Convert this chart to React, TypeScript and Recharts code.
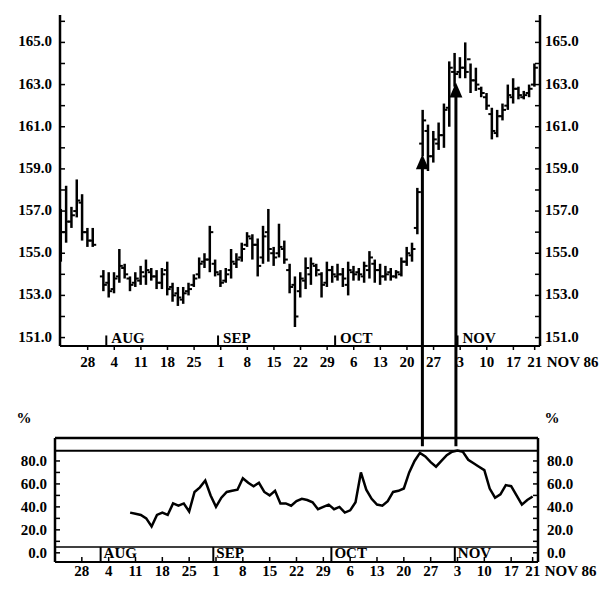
import React from 'react';
import { ComposedChart, LineChart, Bar, Line, XAxis, YAxis, ReferenceLine } from 'recharts';

const W = 616;
const INK = '#000';
const FONT = '"Liberation Serif", "DejaVu Serif", serif';
const txt = { fontFamily: FONT, fontSize: 15, fontWeight: 700, fill: INK };

// one entry per trading day, index 0 = Mon 21 Jul 1986 ... index 89 = Fri 21 Nov 1986
const openPx = [
  155.2, 156.0, 156.5, 157.0, 157.4, 156.0, 155.6, null, 153.9, 153.6,
  153.3, 153.9, 154.3, 153.8, 153.6, 153.7, 153.9, 154.1, 153.9, 153.6,
  154.2, 153.4, 153.1, 152.8, 153.2, 153.5, 154.0, 154.6, 154.7, 154.5,
  154.0, 153.7, 154.2, 154.5, 154.8, 155.4, 155.7, 155.4, 154.8, 156.0,
  155.0, 155.0, 155.2, 154.2, 153.5, 153.2, 153.7, 154.0, 154.4, 154.0,
  153.6, 154.2, 153.9, 154.0, 153.5, 154.1, 154.1, 153.9, 154.2, 154.5,
  154.2, 153.9, 154.1, 153.9, 154.0, 154.6, 154.9, 156.2, 160.2, 160.8,
  159.6, 160.2, 160.6, 161.9, 163.6, 163.6, 163.8, 164.2, 163.2, 162.8,
  162.4, 161.6, 160.7, 161.5, 162.0, 162.4, 162.8, 162.4, 162.6, 163.0,
];
const highPx = [
  157.1, 158.2, 157.2, 158.5, 157.8, 156.2, 156.2, null, 154.2, 154.1,
  154.1, 155.2, 154.5, 153.9, 154.1, 154.4, 154.7, 154.3, 154.2, 154.3,
  154.6, 153.6, 153.4, 153.4, 153.6, 154.0, 154.8, 155.0, 156.3, 154.7,
  154.2, 154.3, 155.2, 155.0, 155.5, 156.0, 155.9, 155.7, 156.3, 157.1,
  155.3, 156.4, 155.6, 154.5, 153.9, 154.1, 154.8, 154.8, 154.5, 154.1,
  154.6, 154.4, 154.5, 154.3, 154.6, 154.4, 154.3, 154.6, 155.1, 154.7,
  154.5, 154.4, 154.3, 154.2, 154.8, 155.3, 155.5, 158.1, 161.8, 161.1,
  160.8, 161.2, 162.1, 164.1, 164.5, 164.3, 165.0, 164.0, 163.8, 162.9,
  162.6, 161.9, 161.8, 162.1, 163.0, 163.3, 162.9, 162.7, 163.0, 164.0,
];
const lowPx = [
  154.6, 155.5, 156.2, 156.7, 155.6, 155.3, 155.3, null, 153.2, 152.9,
  153.1, 153.6, 153.8, 153.2, 153.4, 153.5, 153.5, 153.7, 153.3, 153.3,
  153.0, 152.7, 152.5, 152.6, 153.0, 153.4, 153.8, 154.3, 154.1, 153.9,
  153.4, 153.6, 153.8, 154.3, 154.6, 155.3, 154.7, 153.9, 154.5, 154.6,
  154.4, 154.8, 154.5, 153.1, 151.5, 152.9, 153.3, 153.5, 153.9, 152.9,
  153.4, 153.6, 153.7, 153.4, 153.0, 153.7, 153.7, 153.6, 153.8, 153.6,
  153.5, 153.7, 153.7, 153.8, 153.9, 154.4, 154.6, 155.9, 159.6, 158.9,
  159.3, 159.9, 160.0, 161.0, 162.9, 163.3, 163.3, 162.6, 162.7, 162.4,
  161.8, 160.4, 160.5, 161.3, 161.8, 162.1, 162.3, 162.3, 162.4, 162.9,
];
const closePx = [
  156.0, 156.5, 156.8, 157.5, 156.0, 155.6, 155.4, null, 153.5, 153.2,
  153.8, 154.4, 154.0, 153.5, 153.8, 154.1, 154.2, 153.9, 153.6, 154.0,
  153.3, 153.0, 152.9, 153.1, 153.3, 153.8, 154.5, 154.7, 156.0, 154.1,
  153.6, 154.0, 154.6, 154.7, 155.2, 155.8, 155.4, 154.4, 155.8, 155.2,
  154.8, 155.3, 154.7, 153.4, 152.0, 153.8, 154.3, 154.5, 154.2, 153.5,
  154.2, 154.0, 154.0, 153.8, 154.2, 154.0, 154.0, 154.4, 154.8, 154.2,
  153.9, 154.0, 153.9, 154.1, 154.6, 155.0, 155.2, 157.9, 161.3, 159.6,
  160.4, 160.6, 161.8, 163.8, 163.5, 163.8, 163.6, 163.2, 163.0, 162.6,
  162.0, 160.8, 161.5, 161.8, 162.5, 162.8, 162.5, 162.5, 162.8, 163.8,
];

// lower panel, % line, first value on day index 14
const pctStart = 14;
const pctValues = [
  35, 34, 33, 30, 23, 33, 35, 33, 43, 41,
  43, 36, 53, 57, 63, 50, 40, 48, 53, 54,
  55, 65, 61, 58, 61, 53, 50, 54, 43, 43,
  41, 45, 47, 46, 44, 38, 40, 42, 38, 40,
  35, 37, 44, 70, 55, 47, 42, 41, 45, 53,
  54, 56, 70, 80, 87, 84, 79, 75, 80, 85,
  88, 89, 88, 81, 78, 75, 72, 56, 48, 51,
  59, 58, 50, 42, 46, 49,
];

const weekTicks = [5, 10, 15, 20, 25, 30, 35, 40, 45, 50, 55, 60, 65, 70, 75, 80, 85, 89];
const weekLabels = ['28', '4', '11', '18', '25', '1', '8', '15', '22', '29', '6', '13', '20', '27', '3', '10', '17', '21'];
const monthEdges = [8.5, 29.5, 51.5, 74.5];
const monthNames = ['AUG', 'SEP', 'OCT', 'NOV'];
const priceTicks = [151, 152, 153, 154, 155, 156, 157, 158, 159, 160, 161, 162, 163, 164, 165, 166];
const pctTicks = [0, 10, 20, 30, 40, 50, 60, 70, 80];
const arrowDays = [67.9, 74.2];
const arrowTips = [159.7, 163.1];

const PRICE_DOMAIN: [number, number] = [150.6, 166.3];
const PCT_DOMAIN: [number, number] = [-8, 100];
const PCT_CEILING = 89;
const PCT_STRIP = 5;
const ARROW_BASE = 145.85;

const bars = highPx
  .map((h, i) =>
    h == null
      ? null
      : { i, range: [lowPx[i], h], open: openPx[i], high: h, low: lowPx[i], close: closePx[i] }
  )
  .filter(Boolean);

const pctData = pctValues.map((v, k) => ({ i: pctStart + k, v }));

const OhlcShape = (p: any) => {
  const { x, y, width, height, payload } = p;
  if (!payload || payload.high == null) return null;
  const cx = x + width / 2;
  const span = payload.high - payload.low || 1;
  const at = (v: number) => y + ((payload.high - v) / span) * height;
  return (
    <g>
      <line x1={cx} x2={cx} y1={y} y2={y + height} stroke={INK} strokeWidth={2.5} />
      <line x1={cx - 3.5} x2={cx} y1={at(payload.open)} y2={at(payload.open)} stroke={INK} strokeWidth={2} />
      <line x1={cx} x2={cx + 3.5} y1={at(payload.close)} y2={at(payload.close)} stroke={INK} strokeWidth={2} />
    </g>
  );
};

const ArrowShape = (p: any) => {
  const { x1, y1, y2 } = p;
  const tip = Math.min(y1, y2);
  const base = Math.max(y1, y2);
  return (
    <g>
      <line x1={x1} x2={x1} y1={base} y2={tip + 12} stroke={INK} strokeWidth={3} />
      <polygon points={`${x1},${tip} ${x1 - 6.5},${tip + 15} ${x1 + 6.5},${tip + 15}`} fill={INK} />
    </g>
  );
};

const monthTop = (name: string) => (p: any) => (
  <g>
    <line x1={p.x1} x2={p.x1} y1={p.y1} y2={p.y2} stroke={INK} strokeWidth={2} />
    <text x={p.x1 + 5} y={p.y1 - 3} {...txt}>{name}</text>
  </g>
);

const monthStrip = (name: string) => (p: any) => {
  const bottom = Math.max(p.y1, p.y2);
  return (
    <g>
      <line x1={p.x1} x2={p.x1} y1={p.y1} y2={p.y2} stroke={INK} strokeWidth={2} />
      <text x={p.x1 + 3} y={bottom - 4} {...txt}>{name}</text>
    </g>
  );
};

function makeXTick(inward: boolean) {
  return (p: any) => {
    const { x, y, payload } = p;
    const idx = weekTicks.indexOf(payload.value);
    const last = idx === weekTicks.length - 1;
    return (
      <g>
        {inward && <line x1={x} x2={x} y1={y - 3} y2={y - 8} stroke={INK} strokeWidth={1.5} />}
        <text x={x} y={y} dy="0.72em" textAnchor="middle" {...txt}>
          {weekLabels[idx] ?? ''}
        </text>
        {last && (
          <text x={x + 12} y={y} dy="0.72em" textAnchor="start" {...txt}>
            NOV 86
          </text>
        )}
      </g>
    );
  };
}

function makeYTick(side: 'left' | 'right', gap: number, labelled: (v: number) => boolean, dy: number) {
  return (p: any) => {
    const { x, y, payload } = p;
    const v = payload.value;
    const dir = side === 'left' ? 1 : -1;
    const axisX = x + dir * gap;
    return (
      <g>
        <line x1={axisX} x2={axisX + dir * 5} y1={y} y2={y} stroke={INK} strokeWidth={1.5} />
        {labelled(v) && (
          <text x={x} y={y} dy={dy} textAnchor={side === 'left' ? 'end' : 'start'} {...txt}>
            {v.toFixed(1)}
          </text>
        )}
      </g>
    );
  };
}

const pctLabel = (dx: number) => (p: any) => {
  const vb = p.viewBox || { x: 0, y: 0 };
  return (
    <text x={vb.x + dx} y={vb.y - 15} textAnchor="middle" {...txt}>
      %
    </text>
  );
};

const axisLine = { stroke: INK, strokeWidth: 2.5 };

export default function App() {
  return (
    <div style={{ position: 'absolute', left: 0, top: 0, width: W, height: 593, background: '#fff' }}>
      <div style={{ position: 'absolute', left: 0, top: 0 }}>
        <ComposedChart width={W} height={455} data={bars as any[]} margin={{ top: 15, right: 0, bottom: 79, left: 0 }}>
          <XAxis
            type="number"
            dataKey="i"
            domain={[-0.2, 90]}
            allowDataOverflow
            ticks={weekTicks}
            interval={0}
            height={30}
            axisLine={{ stroke: INK, strokeWidth: 2 }}
            tickLine={{ stroke: INK, strokeWidth: 1.5 }}
            tickSize={4}
            tickMargin={6}
            tick={makeXTick(false)}
          />
          <YAxis
            yAxisId="l"
            domain={PRICE_DOMAIN}
            allowDataOverflow
            ticks={priceTicks}
            interval={0}
            width={60}
            axisLine={axisLine}
            tickLine={false}
            tickSize={0}
            tickMargin={8}
            tick={makeYTick('left', 8, (v) => v % 2 === 1, 4)}
          />
          <YAxis
            yAxisId="r"
            orientation="right"
            domain={PRICE_DOMAIN}
            allowDataOverflow
            ticks={priceTicks}
            interval={0}
            width={76}
            axisLine={axisLine}
            tickLine={false}
            tickSize={0}
            tickMargin={5}
            tick={makeYTick('right', 5, (v) => v % 2 === 1, 4)}
          />
          <Bar yAxisId="l" dataKey="range" barSize={6} shape={OhlcShape} isAnimationActive={false} />
          {monthEdges.map((m, k) => (
            <ReferenceLine
              key={'m' + k}
              yAxisId="l"
              segment={[{ x: m, y: PRICE_DOMAIN[0] }, { x: m, y: PRICE_DOMAIN[0] + 0.5 }]}
              ifOverflow="visible"
              shape={monthTop(monthNames[k])}
            />
          ))}
          {arrowDays.map((d, k) => (
            <ReferenceLine
              key={'a' + k}
              yAxisId="l"
              segment={[{ x: d, y: ARROW_BASE }, { x: d, y: arrowTips[k] }]}
              ifOverflow="visible"
              shape={ArrowShape}
            />
          ))}
        </ComposedChart>
      </div>
      <div style={{ position: 'absolute', left: 0, top: 380 }}>
        <LineChart width={W} height={213} data={pctData} margin={{ top: 58, right: 0, bottom: 0, left: 0 }}>
          <XAxis
            type="number"
            dataKey="i"
            domain={[0, 90]}
            allowDataOverflow
            ticks={weekTicks}
            interval={0}
            height={31}
            axisLine={{ stroke: INK, strokeWidth: 2 }}
            tickLine={false}
            tickSize={0}
            tickMargin={3}
            tick={makeXTick(true)}
          />
          <YAxis
            yAxisId="l"
            domain={PCT_DOMAIN}
            allowDataOverflow
            ticks={pctTicks}
            interval={0}
            width={55}
            axisLine={axisLine}
            tickLine={false}
            tickSize={0}
            tickMargin={8}
            tick={makeYTick('left', 8, (v) => v % 20 === 0, 5)}
            label={{ position: 'top', content: pctLabel(24) }}
          />
          <YAxis
            yAxisId="r"
            orientation="right"
            domain={PCT_DOMAIN}
            allowDataOverflow
            ticks={pctTicks}
            interval={0}
            width={78}
            axisLine={axisLine}
            tickLine={false}
            tickSize={0}
            tickMargin={9}
            tick={makeYTick('right', 9, (v) => v % 20 === 0, 5)}
            label={{ position: 'top', content: pctLabel(14) }}
          />
          <ReferenceLine yAxisId="l" y={PCT_DOMAIN[1]} stroke={INK} strokeWidth={2.5} />
          <ReferenceLine yAxisId="l" y={PCT_CEILING} stroke={INK} strokeWidth={2} />
          <ReferenceLine yAxisId="l" y={PCT_STRIP} stroke={INK} strokeWidth={1.5} />
          {monthEdges.map((m, k) => (
            <ReferenceLine
              key={'s' + k}
              yAxisId="l"
              segment={[{ x: m, y: PCT_DOMAIN[0] }, { x: m, y: PCT_STRIP }]}
              ifOverflow="visible"
              shape={monthStrip(monthNames[k])}
            />
          ))}
          <Line
            yAxisId="l"
            type="linear"
            dataKey="v"
            stroke={INK}
            strokeWidth={2.5}
            dot={false}
            isAnimationActive={false}
          />
        </LineChart>
      </div>
    </div>
  );
}
